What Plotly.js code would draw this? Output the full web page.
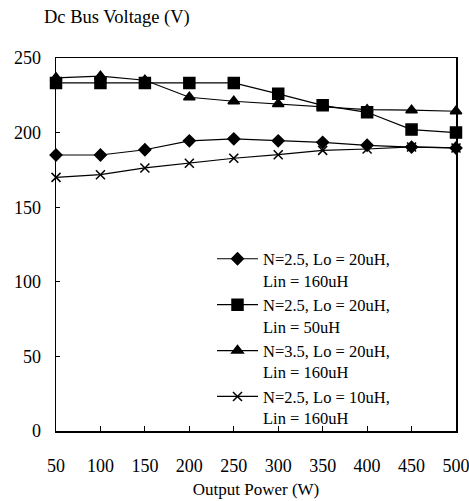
<!DOCTYPE html>
<html>
<head>
<meta charset="utf-8">
<script src="https://cdn.plot.ly/plotly-3.0.1.min.js"></script>
<style>html,body{margin:0;padding:0;background:#fff;}#chart{width:469px;height:501px;}</style>
</head>
<body>
<div id="chart"></div>
<script>
const power = [50, 100, 150, 200, 250, 300, 350, 400, 450, 500];
const s1 = [185, 185, 188.5, 194.5, 195.8, 194.5, 193.5, 191.5, 190.3, 189.7];
const s2 = [233.3, 233.3, 233.3, 233.3, 233.3, 226, 218.3, 213.6, 202, 200];
const s3 = [236.7, 237.8, 235.1, 223.7, 221, 219.2, 217.7, 215.4, 215, 214.3];
const s4 = [170, 171.8, 176.3, 179.4, 182.8, 185.2, 188.1, 189, 190.4, 189.7];
const names = [
  "N=2.5, Lo = 20uH,<br>Lin = 160uH",
  "N=2.5, Lo = 20uH,<br>Lin = 50uH",
  "N=3.5, Lo = 20uH,<br>Lin = 160uH",
  "N=2.5, Lo = 10uH,<br>Lin = 160uH"
];
const yTitle = "Dc Bus Voltage (V)";
const xTitle = "Output Power (W)";

const FAM = "Liberation Serif";
function f(size) { return {family: FAM, size: size, color: "#000"}; }
function tr(y, name, symbol, size) {
  return {
    x: power, y: y, name: name, type: "scatter", mode: "lines+markers",
    line: {color: "#000", width: 1.2},
    marker: {symbol: symbol, size: size, color: "#000", line: {color: "#000", width: 1.5}},
    cliponaxis: false
  };
}
const data = [
  tr(s1, names[0], "diamond", 9),
  tr(s2, names[1], "square", 11),
  tr(s3, names[2], "triangle-up", 10),
  tr(s4, names[3], "x-thin", 9)
];
const layout = {
  width: 469, height: 501,
  margin: {l: 56, r: 13, t: 58, b: 70},
  paper_bgcolor: "#fff", plot_bgcolor: "#fff",
  font: f(17),
  showlegend: true,
  legend: {
    x: 0.39, y: 0.508, xanchor: "left", yanchor: "top",
    bgcolor: "rgba(0,0,0,0)", borderwidth: 0,
    font: f(16.5),
    valign: "top", tracegroupgap: 0, itemwidth: 41
  },
  xaxis: {
    range: [49.99, 500.01], dtick: 50, tick0: 50,
    showgrid: false, zeroline: false,
    showline: true, linecolor: "#000", linewidth: 1.5, mirror: true,
    ticks: "inside", ticklen: 5, tickcolor: "#000",
    ticklabelstandoff: 18, ticklabeloverflow: "allow",
    tickfont: f(18),
    title: {text: xTitle, font: f(17), standoff: 8}
  },
  yaxis: {
    range: [0, 250], dtick: 50,
    showgrid: false, zeroline: false,
    showline: true, linecolor: "#000", linewidth: 1.5, mirror: true,
    ticks: "inside", ticklen: 4, tickcolor: "#000",
    ticklabelstandoff: 10,
    tickfont: f(18)
  },
  annotations: [{
    text: yTitle, xref: "paper", yref: "paper", x: -0.035, y: 1.075,
    xanchor: "left", yanchor: "bottom", showarrow: false,
    font: f(18.5)
  }]
};
Plotly.newPlot("chart", data, layout, {displayModeBar: false, staticPlot: true});
</script>
</body>
</html>
